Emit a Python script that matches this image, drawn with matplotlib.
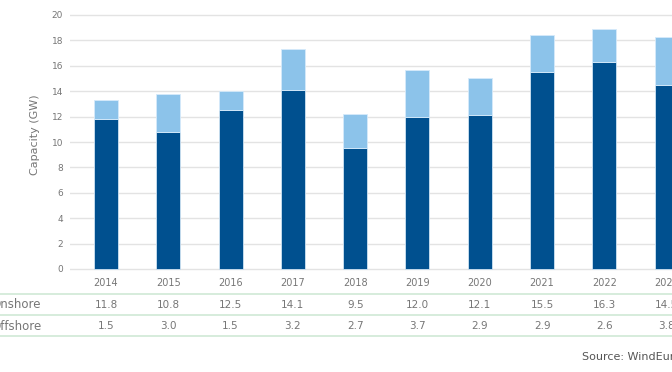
import numpy as np
import matplotlib
matplotlib.use('Agg')
import matplotlib.pyplot as plt
from matplotlib.lines import Line2D
from matplotlib.transforms import blended_transform_factory

# Data
years = ['2014', '2015', '2016', '2017', '2018', '2019', '2020', '2021', '2022', '2023']
onshore = [11.8, 10.8, 12.5, 14.1, 9.5, 12.0, 12.1, 15.5, 16.3, 14.5]
offshore = [1.5, 3.0, 1.5, 3.2, 2.7, 3.7, 2.9, 2.9, 2.6, 3.8]
yticks = [0, 2, 4, 6, 8, 10, 12, 14, 16, 18, 20]

DARK = '#00508f'
LIGHT = '#8cc3ea'
GREY = '#767676'
GRID = '#e3e3e3'
RULE = '#cfe9d6'

plt.rcParams['font.family'] = ['DejaVu Sans']

W, H = 672, 372
fig = plt.figure(figsize=(W / 100, H / 100), dpi=100)

# axes placed in pixels: left 70, bottom at pixel row 274, top at pixel row 10
ax = fig.add_axes([70 / W, 1 - 274 / H, (W - 70) / W, 264 / H])

x = np.arange(len(years))
px_per_cat = 62.3
ax.bar(x, onshore, width=24 / px_per_cat, color=DARK, edgecolor='#cfe3f3', linewidth=0.6, zorder=3)
ax.bar(x, offshore, bottom=onshore, width=24 / px_per_cat, color=LIGHT,
       edgecolor='#d6eafa', linewidth=0.6, zorder=3)

ax.set_xlim((70 - 106) / px_per_cat, (W - 106) / px_per_cat)
ax.set_ylim(-5 / 12.7, 20 + 5 / 12.7)
ax.set_yticks(yticks)
ax.set_xticks([])
ax.tick_params(axis='y', length=0, pad=5, labelsize=6.5, labelcolor=GREY)
ax.grid(axis='y', color=GRID, linewidth=1, zorder=0)
for s in ax.spines.values():
    s.set_visible(False)

fig.text(35 / W, 1 - 135 / H, 'Capacity (GW)', rotation=90, ha='center', va='center',
         fontsize=8, color=GREY)

# data table under the chart
tr = blended_transform_factory(ax.transData, fig.transFigure)
for i, yr in enumerate(years):
    ax.text(x[i], 1 - 283 / H, yr, transform=tr, ha='center', va='center',
            fontsize=7, color=GREY, clip_on=False)
    ax.text(x[i], 1 - 305 / H, f'{onshore[i]:.1f}', transform=tr, ha='center', va='center',
            fontsize=7.5, color=GREY, clip_on=False)
    ax.text(x[i], 1 - 326 / H, f'{offshore[i]:.1f}', transform=tr, ha='center', va='center',
            fontsize=7.5, color=GREY, clip_on=False)

fig.text(-9 / W, 1 - 305 / H, 'Onshore', ha='left', va='center', fontsize=8.5, color=GREY)
fig.text(-9 / W, 1 - 326 / H, 'Offshore', ha='left', va='center', fontsize=8.5, color=GREY)

for yy in [294, 315, 336]:
    fig.add_artist(Line2D([0, 1], [1 - yy / H, 1 - yy / H], transform=fig.transFigure,
                          color=RULE, linewidth=1.2))

fig.text(582 / W, 1 - 357 / H, 'Source: WindEurope', ha='left', va='center',
         fontsize=8, color='#555555')

fig.savefig('out.png', dpi=100)
